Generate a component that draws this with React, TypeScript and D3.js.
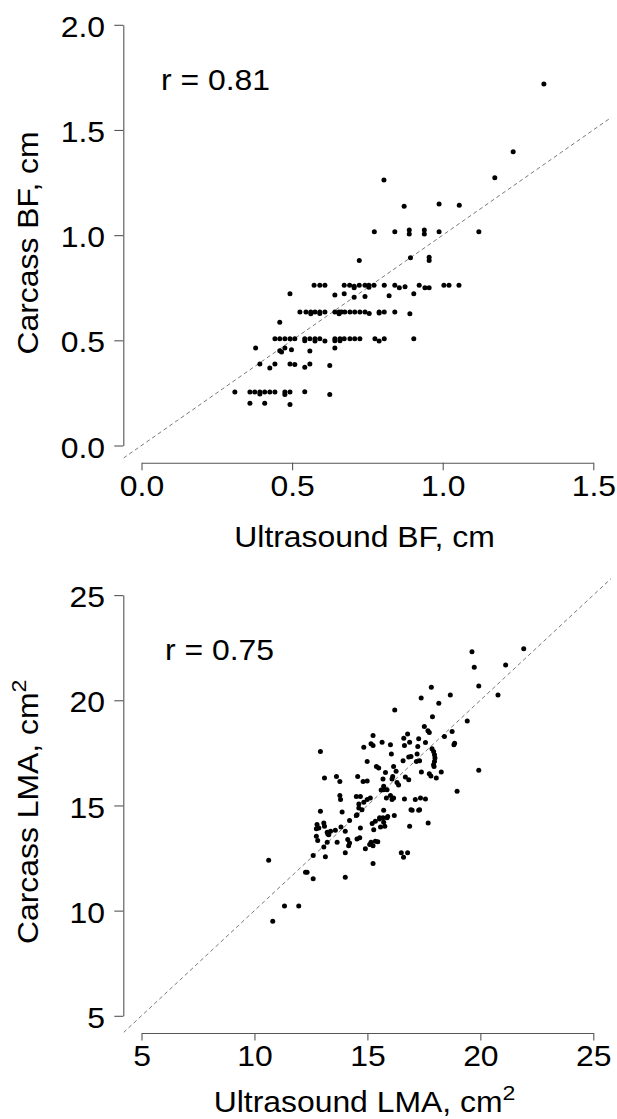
import React, { useEffect, useRef } from "react";
import * as d3 from "d3";

// ---------- Data ----------
const bfTicksX = [0, 0.5, 1.0, 1.5];
const bfTicksY = [0, 0.5, 1.0, 1.5, 2.0];
const lmaTicks = [5, 10, 15, 20, 25];

// [ultrasound BF, carcass BF] in cm
const bfPoints: [number, number][] = [
  [1.336, 1.718], [1.234, 1.397], [1.173, 1.273], [0.805, 1.262], [0.872, 1.137], [0.988, 1.148], [1.055, 1.142],
  [0.773, 1.016], [0.841, 1.016], [0.889, 1.024], [0.889, 1.005], [0.939, 1.024], [0.939, 1.005], [0.988, 1.016], [1.12, 1.016],
  [0.723, 0.879], [0.893, 0.892], [0.955, 0.895], [0.955, 0.88],
  [0.573, 0.762], [0.592, 0.762], [0.609, 0.762], [0.673, 0.762], [0.691, 0.762], [0.706, 0.75], [0.706, 0.757], [0.723, 0.762],
  [0.742, 0.762], [0.755, 0.762], [0.755, 0.752], [0.772, 0.762], [0.806, 0.762], [0.841, 0.762], [0.856, 0.75], [0.875, 0.755],
  [0.922, 0.762], [0.941, 0.75], [0.955, 0.75], [1.004, 0.762], [1.021, 0.762], [1.054, 0.762],
  [0.493, 0.721], [0.642, 0.716], [0.673, 0.721], [0.706, 0.705], [0.742, 0.708], [0.822, 0.712], [0.904, 0.721],
  [0.526, 0.635], [0.546, 0.635], [0.562, 0.635], [0.562, 0.626], [0.576, 0.635], [0.592, 0.635], [0.592, 0.628], [0.609, 0.635],
  [0.642, 0.635], [0.656, 0.635], [0.656, 0.626], [0.664, 0.635], [0.675, 0.635], [0.692, 0.635], [0.708, 0.635], [0.725, 0.635],
  [0.742, 0.635], [0.756, 0.628], [0.789, 0.635], [0.789, 0.63], [0.806, 0.635], [0.841, 0.635], [0.891, 0.626],
  [0.459, 0.586],
  [0.443, 0.508], [0.459, 0.508], [0.476, 0.508], [0.493, 0.508], [0.509, 0.508], [0.542, 0.508], [0.542, 0.498], [0.559, 0.508],
  [0.576, 0.508], [0.576, 0.497], [0.592, 0.508], [0.609, 0.497], [0.642, 0.508], [0.642, 0.498], [0.659, 0.508], [0.659, 0.498],
  [0.673, 0.508], [0.692, 0.508], [0.708, 0.508], [0.725, 0.508], [0.775, 0.508], [0.789, 0.497], [0.806, 0.508], [0.904, 0.508],
  [0.379, 0.464], [0.459, 0.451], [0.465, 0.445], [0.476, 0.464], [0.498, 0.455], [0.559, 0.449], [0.642, 0.464],
  [0.393, 0.388], [0.426, 0.369], [0.443, 0.388], [0.493, 0.388], [0.509, 0.385], [0.542, 0.372], [0.559, 0.388], [0.625, 0.38],
  [0.31, 0.254], [0.36, 0.254], [0.376, 0.254], [0.393, 0.254], [0.393, 0.245], [0.409, 0.254], [0.426, 0.254], [0.443, 0.254],
  [0.476, 0.254], [0.476, 0.243], [0.493, 0.254], [0.542, 0.256], [0.625, 0.243],
  [0.36, 0.201], [0.409, 0.201], [0.493, 0.195],
];

// [ultrasound LMA, carcass LMA] in cm^2
const lmaPoints: [number, number][] = [
  [19.63, 22.31], [21.92, 22.45], [19.73, 21.57], [21.12, 21.68], [19.93, 20.68], [20.78, 20.25], [17.83, 20.62], [18.67, 20.25],
  [17.38, 20.11], [18.16, 19.86], [16.21, 19.54], [17.88, 19.22], [19.42, 19.02], [17.52, 18.75], [17.74, 18.47], [17.68, 18.55],
  [18.75, 18.51], [18.41, 18.28], [16.78, 18.4], [15.25, 18.32], [17.27, 18.17], [16.61, 18.2], [18.86, 17.96], [18.83, 17.88],
  [15.65, 18.01], [15.16, 17.93], [15.25, 17.85], [16.02, 17.88], [16.87, 18.01], [17.23, 17.8], [17.57, 17.99], [14.84, 17.77],
  [16.64, 17.85], [17.86, 17.69], [17.93, 17.57], [17.97, 17.41], [17.99, 17.25], [17.97, 17.09], [17.93, 16.94], [17.95, 16.85],
  [12.92, 17.57], [16.06, 17.44], [17.2, 17.44], [16.93, 17.33], [16.83, 17.3], [17.17, 17.09], [17.31, 17.12], [16.58, 17.12],
  [14.99, 17.09], [15.4, 16.85], [15.5, 16.78], [16.16, 16.85], [15.8, 16.57], [16.27, 16.62], [17.39, 16.59], [17.74, 16.51],
  [17.81, 16.4], [18.27, 16.59], [19.93, 16.67], [18.05, 16.3], [13.1, 16.3], [13.63, 16.38], [13.78, 16.14], [14.57, 16.38],
  [14.81, 16.14], [14.99, 16.16], [15.69, 16.26], [16.09, 16.26], [16.12, 16.38], [16.38, 15.97], [16.31, 16.09], [16.68, 16.35],
  [16.83, 16.22], [15.72, 15.91], [15.87, 15.75], [15.72, 15.75], [15.61, 15.74], [18.97, 15.67], [13.78, 15.47], [13.81, 15.28],
  [14.51, 15.43], [14.69, 15.43], [16.02, 15.47], [16.16, 15.36], [16.09, 15.28], [15.84, 15.36], [16.64, 15.31], [17.12, 15.28],
  [17.35, 15.36], [17.57, 15.31], [14.99, 15.28], [15.13, 15.36], [14.84, 15.15], [14.62, 15.07], [14.62, 14.88], [12.92, 14.72],
  [13.88, 14.69], [14.51, 14.52], [15.72, 14.77], [15.54, 14.42], [15.69, 14.42], [15.87, 14.42], [16.93, 14.8], [17.31, 14.8],
  [14.54, 14.56], [15.9, 14.48], [16.19, 14.52], [16.98, 14.77], [17.27, 14.77], [14.76, 14.8],
  [12.77, 14.09], [12.85, 13.93], [12.74, 13.89], [13.07, 14.17], [13.1, 14.01], [13.22, 13.72], [13.37, 13.77], [13.29, 13.61],
  [13.25, 13.64], [13.58, 13.82], [13.83, 13.98], [14.02, 13.77], [14.21, 14.29], [14.69, 13.93], [12.74, 13.53], [12.8, 13.33],
  [13.07, 13.03], [13.22, 13.25], [13.66, 13.25], [14.13, 13.38], [14.21, 13.22], [14.17, 13.09], [14.66, 13.46], [14.54, 13.41],
  [15.21, 14.14], [15.35, 14.25], [15.54, 14.36], [15.72, 14.2], [15.58, 13.98], [15.77, 14.01], [15.28, 13.85], [14.91, 12.94],
  [15.1, 13.14], [15.16, 13.25], [15.25, 13.09], [15.35, 13.3], [15.46, 13.28], [14.02, 12.75], [12.6, 12.62], [13.14, 12.56],
  [15.25, 12.24], [16.5, 12.75], [16.6, 12.54], [16.78, 12.75], [16.87, 14.01], [17.69, 14.17], [10.63, 12.4], [12.26, 11.83],
  [12.33, 11.83], [12.6, 11.51], [14.02, 11.59], [11.33, 10.22], [11.96, 10.22], [10.81, 9.5],
];

const FONT = "'Liberation Sans', Arial, Helvetica, sans-serif";
const FS = 29;
const WIDE = "scale(1.1,1)";

type PanelCfg = {
  dy: number;
  xDomain: [number, number];
  yDomain: [number, number];
  xTicks: number[];
  yTicks: number[];
  fmt: (v: number) => string;
  points: [number, number][];
  r: string;
  xTitle: string;
  yTitle: string;
  sup: boolean;
  rx: number;
  xTitleY: number;
  yTitleC: number;
};

const panels: PanelCfg[] = [
  {
    dy: 0, xDomain: [0, 1.5], yDomain: [0, 2], xTicks: bfTicksX, yTicks: bfTicksY,
    fmt: d3.format(".1f"), points: bfPoints, r: "r = 0.81",
    xTitle: "Ultrasound BF, cm", yTitle: "Carcass BF, cm", sup: false, rx: 161,
    xTitleY: 547, yTitleC: 243,
  },
  {
    dy: 570.3, xDomain: [5, 25], yDomain: [5, 25], xTicks: lmaTicks, yTicks: lmaTicks,
    fmt: d3.format("d"), points: lmaPoints, r: "r = 0.75",
    xTitle: "Ultrasound LMA, cm", yTitle: "Carcass LMA, cm", sup: true, rx: 165,
    xTitleY: 542, yTitleC: 241.5,
  },
];

export default function App() {
  const ref = useRef<SVGSVGElement>(null);

  useEffect(() => {
    const svg = d3.select(ref.current);
    svg.selectAll("*").remove();

    panels.forEach((p, i) => {
      const g = svg.append("g").attr("transform", `translate(0,${p.dy})`);
      const x = d3.scaleLinear().domain(p.xDomain).range([141.5, 593.3]);
      const y = d3.scaleLinear().domain(p.yDomain).range([445.5, 24.8]);

      // plot region (R's 4% extension)
      const ex = (p.xDomain[1] - p.xDomain[0]) * 0.04;
      const ey = (p.yDomain[1] - p.yDomain[0]) * 0.04;
      const ux: [number, number] = [p.xDomain[0] - ex, p.xDomain[1] + ex];
      const uy: [number, number] = [p.yDomain[0] - ey, p.yDomain[1] + ey];

      const clipId = `clip${i}`;
      g.append("clipPath").attr("id", clipId).append("rect")
        .attr("x", x(ux[0])).attr("y", y(uy[1]))
        .attr("width", x(ux[1]) - x(ux[0])).attr("height", y(uy[0]) - y(uy[1]));

      // 1:1 line
      const lo = Math.max(ux[0], uy[0]);
      const hi = Math.min(ux[1], uy[1]);
      g.append("line")
        .attr("clip-path", `url(#${clipId})`)
        .attr("x1", x(lo)).attr("y1", y(lo)).attr("x2", x(hi)).attr("y2", y(hi))
        .attr("stroke", "#6a6a6a").attr("stroke-width", 0.9).attr("stroke-dasharray", "4,3");

      // axes
      const yAxis = g.append("g").attr("transform", "translate(123.3,0)")
        .call(d3.axisLeft(y).tickValues(p.yTicks).tickFormat(p.fmt as any).tickSize(9).tickSizeOuter(0).tickPadding(8));
      const xAxis = g.append("g").attr("transform", "translate(0,462.7)")
        .call(d3.axisBottom(x).tickValues(p.xTicks).tickFormat(p.fmt as any).tickSize(7.5).tickSizeOuter(0).tickPadding(5));
      [yAxis, xAxis].forEach((a) => {
        a.select(".domain").attr("stroke", "#555").attr("stroke-width", 1.1);
        a.selectAll(".tick line").attr("stroke", "#555").attr("stroke-width", 1.1);
        a.selectAll(".tick text").attr("fill", "#000").attr("font-size", FS).attr("font-family", FONT)
          .attr("transform", WIDE);
      });
      yAxis.selectAll(".tick text").attr("x", -16.6).attr("dy", "0.4em");

      // points
      g.append("g").selectAll("circle").data(p.points).join("circle")
        .attr("cx", (d) => x(d[0])).attr("cy", (d) => y(d[1])).attr("r", 2.5).attr("fill", "#000");

      // r label
      g.append("text").attr("transform", `translate(${p.rx},90) ${WIDE}`).attr("font-size", FS)
        .attr("font-family", FONT).attr("fill", "#000").text(p.r);

      // x title
      const xt = g.append("text").attr("transform", `translate(364.5,${p.xTitleY}) ${WIDE}`)
        .attr("text-anchor", "middle")
        .attr("font-size", FS).attr("font-family", FONT).attr("fill", "#000").text(p.xTitle);
      if (p.sup) xt.append("tspan").attr("dy", -12).attr("font-size", 21).text("2");

      // y title
      const yt = g.append("text").attr("transform", `translate(37.5,${p.yTitleC}) rotate(-90) ${WIDE}`)
        .attr("text-anchor", "middle").attr("font-size", FS).attr("font-family", FONT).attr("fill", "#000")
        .text(p.yTitle);
      if (p.sup) yt.append("tspan").attr("dy", -12).attr("font-size", 21).text("2");
    });
  }, []);

  return (
    <svg ref={ref} width={617} height={1119}
      style={{ position: "absolute", left: 0, top: 0, background: "#fff" }} />
  );
}
